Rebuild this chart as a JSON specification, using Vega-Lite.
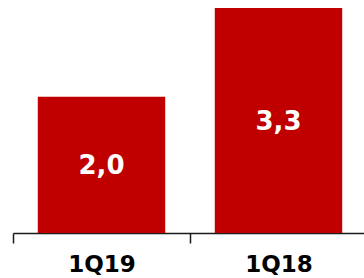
{
  "$schema": "https://vega.github.io/schema/vega-lite/v6.json",
  "width": 354,
  "height": 225,
  "autosize": {"type": "none"},
  "padding": {"left": 13, "top": 8, "right": 0, "bottom": 45},
  "background": "white",
  "config": {
    "view": {"stroke": null},
    "locale": {"number": {"decimal": ",", "thousands": ".", "grouping": [3], "currency": ["", " €"]}}
  },
  "data": {"values": [
    {"quarter": "1Q19", "value": 2.0},
    {"quarter": "1Q18", "value": 3.3}
  ]},
  "encoding": {
    "x": {
      "field": "quarter", "type": "nominal", "sort": null,
      "scale": {"paddingInner": 0.28, "paddingOuter": 0.14},
      "axis": {
        "title": null, "labelAngle": 0, "tickOffset": -88.5, "labelOffset": 88.5,
        "domainColor": "#1a1a1a", "domainWidth": 1.5,
        "tickColor": "#1a1a1a", "tickWidth": 1.5, "tickSize": 10,
        "labelFont": "DejaVu Sans", "labelFontWeight": "bold", "labelFontSize": 23,
        "labelColor": "#000000", "labelPadding": 10, "grid": false
      }
    }
  },
  "layer": [
    {
      "mark": {"type": "bar", "color": "#C00000"},
      "encoding": {
        "y": {"field": "value", "type": "quantitative", "scale": {"domain": [0, 3.3], "nice": false}, "axis": null}
      }
    },
    {
      "transform": [{"calculate": "datum.value / 2", "as": "mid"}],
      "mark": {"type": "text", "color": "white", "font": "DejaVu Sans", "fontWeight": "bold", "fontSize": 26, "baseline": "middle", "dy": 1},
      "encoding": {
        "y": {"field": "mid", "type": "quantitative"},
        "text": {"field": "value", "type": "quantitative", "format": ".1f"}
      }
    }
  ]
}
